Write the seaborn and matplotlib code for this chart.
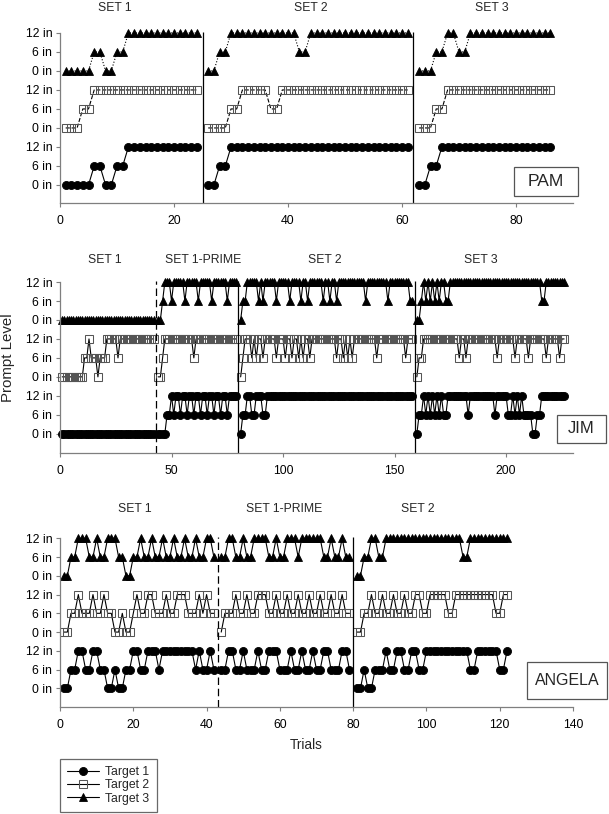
import numpy as np
import pandas as pd
import matplotlib
matplotlib.use("Agg")
import matplotlib.pyplot as plt
import seaborn as sns
from matplotlib.lines import Line2D
from matplotlib.patches import Rectangle

# ---------------- DATA (prompt level in inches, as runs of (value, count)) ----------------
LEVEL_LABELS = ["0 in", "6 in", "12 in"]
TARGETS = ["Target 1", "Target 2", "Target 3"]

# PAM
PAM_PHASE_STARTS = [1, 26, 63]
PAM_PHASE_NAMES = ["SET 1", "SET 2", "SET 3"]
PAM_T1 = [[(0, 5), (6, 2), (0, 2), (6, 2), (12, 13)],
          [(0, 2), (6, 2), (12, 32)],
          [(0, 2), (6, 2), (12, 20)]]
PAM_T2 = [[(0, 3), (6, 2), (12, 19)],
          [(0, 4), (6, 2), (12, 5), (6, 2), (12, 23)],
          [(0, 3), (6, 2), (12, 19)]]
PAM_T3 = [[(0, 5), (6, 2), (0, 2), (6, 2), (12, 13)],
          [(0, 2), (6, 2), (12, 12), (6, 2), (12, 18)],
          [(0, 3), (6, 2), (12, 2), (6, 2), (12, 15)]]
PAM_LINES = [25, 62]
PAM_LINE_STYLES = ["-", "-"]

# JIM
JIM_PHASE_STARTS = [1, 44, 81, 160]
JIM_PHASE_NAMES = ["SET 1", "SET 1-PRIME", "SET 2", "SET 3"]
JIM_T1 = [[(0, 42)],
          [(0, 4), (6, 2), (12, 1), (6, 1), (12, 2), (6, 1), (12, 2), (6, 1), (12, 2), (6, 1),
           (12, 2), (6, 1), (12, 2), (6, 1), (12, 2), (6, 1), (12, 2), (6, 1), (12, 2), (6, 1),
           (12, 4)],
          [(0, 1), (6, 2), (12, 2), (6, 2), (12, 3), (6, 2), (12, 66)],
          [(0, 1), (6, 2), (12, 1), (6, 1), (12, 1), (6, 1), (12, 1), (6, 1), (12, 1), (6, 1),
           (12, 1), (6, 2), (12, 9), (6, 1), (12, 11), (6, 1), (12, 5), (6, 2), (12, 1), (6, 1),
           (12, 1), (6, 1), (12, 1), (6, 4), (0, 2), (6, 2), (12, 11)]]
JIM_T2 = [[(0, 10), (6, 2), (12, 1), (6, 3), (0, 1), (6, 3), (12, 5), (6, 1), (12, 16)],
          [(0, 2), (6, 1), (12, 13), (6, 1), (12, 19)],
          [(0, 1), (6, 1), (12, 3), (6, 1), (12, 1), (6, 1), (12, 2), (6, 1), (12, 5), (6, 1),
           (12, 3), (6, 1), (12, 2), (6, 1), (12, 2), (6, 1), (12, 1), (6, 1), (12, 2), (6, 1),
           (12, 11), (6, 1), (12, 2), (6, 1), (12, 1), (6, 1), (12, 1), (6, 1), (12, 10), (6, 1),
           (12, 12), (6, 1), (12, 3)],
          [(0, 1), (6, 2), (12, 16), (6, 1), (12, 2), (6, 1), (12, 13), (6, 1), (12, 7), (6, 1),
           (12, 5), (6, 1), (12, 7), (6, 1), (12, 5), (6, 1), (12, 2)]]
JIM_T3 = [[(0, 42)],
          [(0, 2), (6, 1), (12, 3), (6, 1), (12, 5), (6, 1), (12, 5), (6, 1), (12, 5), (6, 1),
           (12, 6), (6, 1), (12, 4)],
          [(0, 1), (6, 2), (12, 5), (6, 1), (12, 1), (6, 1), (12, 5), (6, 1), (12, 5), (6, 1),
           (12, 4), (6, 1), (12, 2), (6, 1), (12, 6), (6, 1), (12, 2), (6, 1), (12, 2), (6, 1),
           (12, 12), (6, 1), (12, 9), (6, 1), (12, 9), (6, 2)],
          [(0, 2), (6, 1), (12, 1), (6, 1), (12, 1), (6, 1), (12, 1), (6, 1), (12, 1), (6, 1),
           (12, 2), (6, 2), (12, 41), (6, 2), (12, 9)]]
JIM_LINES = [43, 80, 159]
JIM_LINE_STYLES = ["--", "-", "-"]

# ANGELA
ANG_PHASE_STARTS = [1, 44, 81]
ANG_PHASE_NAMES = ["SET 1", "SET 1-PRIME", "SET 2"]
ANG_T1 = [[(0, 2), (6, 2), (12, 2), (6, 2), (12, 2), (6, 2), (0, 2), (6, 1), (0, 2), (6, 2),
           (12, 2), (6, 2), (12, 3), (6, 1), (12, 9), (6, 1), (12, 1), (6, 2), (12, 1), (6, 1)],
          [(6, 2), (12, 2), (6, 2), (12, 1), (6, 3), (12, 1), (6, 2), (12, 3), (6, 3), (12, 1),
           (6, 2), (12, 1), (6, 2), (12, 1), (6, 2), (12, 2), (6, 3), (12, 2), (6, 1)],
          [(0, 2), (6, 1), (0, 2), (6, 3), (12, 1), (6, 2), (12, 2), (6, 2), (12, 2), (6, 2),
           (12, 12), (6, 2), (12, 6), (6, 2), (12, 1)]]
ANG_T2 = [[(0, 2), (6, 2), (12, 1), (6, 3), (12, 1), (6, 2), (12, 1), (6, 2), (0, 2), (6, 1),
           (0, 2), (6, 1), (12, 1), (6, 2), (12, 2), (6, 3), (12, 1), (6, 2), (12, 3), (6, 3),
           (12, 1), (6, 1), (12, 1), (6, 2)],
          [(0, 1), (6, 3), (12, 1), (6, 2), (12, 1), (6, 2), (12, 3), (6, 2), (12, 1), (6, 2),
           (12, 1), (6, 2), (12, 1), (6, 2), (12, 1), (6, 2), (12, 1), (6, 2), (12, 1), (6, 2),
           (12, 1), (6, 2)],
          [(0, 2), (6, 2), (12, 1), (6, 2), (12, 1), (6, 2), (12, 1), (6, 2), (12, 1), (6, 2),
           (12, 2), (6, 2), (12, 5), (6, 2), (12, 11), (6, 2), (12, 2)]]
ANG_T3 = [[(0, 2), (6, 2), (12, 3), (6, 2), (12, 1), (6, 2), (12, 3), (6, 2), (0, 2), (6, 2),
           (12, 1), (6, 2), (12, 1), (6, 2), (12, 1), (6, 2), (12, 1), (6, 2), (12, 1), (6, 2),
           (12, 1), (6, 2), (12, 2), (6, 1)],
          [(6, 2), (12, 2), (6, 2), (12, 1), (6, 2), (12, 4), (6, 2), (12, 1), (6, 2), (12, 3),
           (6, 1), (12, 6), (6, 2), (12, 1), (6, 2), (12, 1), (6, 2)],
          [(0, 2), (6, 2), (12, 2), (6, 2), (12, 21), (6, 2), (12, 11)]]
ANG_LINES = [43, 80]
ANG_LINE_STYLES = ["--", "-"]

# ---------------- STYLE ----------------
sns.set_theme(style="ticks")
plt.rcParams["font.family"] = ["Liberation Sans", "DejaVu Sans"]

W, H = 609, 814
fig = plt.figure(figsize=(W / 100, H / 100), dpi=100)
GRAY = "#7f7f7f"


def build_df(starts, series):
    rows = []
    for t_idx, phases in enumerate(series):
        for p_idx, runs in enumerate(phases):
            vals = [v for v, n in runs for _ in range(n)]
            for k, v in enumerate(vals):
                rows.append({"trial": starts[p_idx] + k, "inches": v,
                             "target": TARGETS[t_idx], "phase": p_idx,
                             "y": t_idx * 3 + v / 6})
    return pd.DataFrame(rows)


STYLES = {
    "Target 1": dict(marker="o", markersize=5.8, mfc="black", mec="black", mew=0.6),
    "Target 2": dict(marker="s", markersize=5.6, mfc="none", mec="#555555", mew=0.75),
    "Target 3": dict(marker="^", markersize=6.0, mfc="black", mec="black", mew=0.6),
}


def px2fig(x, y):
    return x / W, 1 - y / H


def make_panel(left_px, right_px, bottom_px, px_per_unit, ymin, xmax, xticks,
               starts, names, series, lines, line_styles, title_pos, name, name_box,
               name_fs, lstyles):
    ymax = 8.4
    height_px = (ymax - ymin) * px_per_unit
    ax = fig.add_axes([left_px / W, (H - bottom_px) / H, (right_px - left_px) / W, height_px / H])
    df = build_df(starts, series)
    for tgt in TARGETS:
        sub = df[df["target"] == tgt]
        sns.lineplot(data=sub, x="trial", y="y", units="phase", estimator=None, sort=False,
                     ax=ax, color="black", lw=0.8, linestyle=lstyles[tgt], legend=False,
                     clip_on=False, **STYLES[tgt])
    for xv, ls in zip(lines, line_styles):
        style = (0, (6, 3)) if ls == "--" else "solid"
        ax.vlines(xv, ymin, 8.05, colors="black", linestyles=[style], lw=0.9)
    ax.set_xlim(0, xmax)
    ax.set_ylim(ymin, ymax)
    ax.set_xticks(xticks)
    ax.set_xticklabels([str(t) for t in xticks])
    ax.set_yticks(range(9))
    ax.set_yticklabels(LEVEL_LABELS * 3)
    ax.set_xlabel("")
    ax.set_ylabel("")
    for s in ["top", "right"]:
        ax.spines[s].set_visible(False)
    for s in ["left", "bottom"]:
        ax.spines[s].set_color(GRAY)
        ax.spines[s].set_linewidth(0.9)
    ax.spines["left"].set_bounds(ymin, 8)
    ax.tick_params(axis="y", direction="out", length=3, width=0.8, color=GRAY,
                   labelsize=8.8, pad=2.5, labelcolor="black")
    ax.tick_params(axis="x", direction="out", length=3, width=0.8, color=GRAY,
                   labelsize=8.8, pad=5.5, labelcolor="black")
    for (tx, ty), nm in zip(title_pos, names):
        fx, fy = px2fig(tx, ty)
        fig.text(fx, fy, nm, ha="center", va="center", fontsize=8.8)
    x0, y0, x1, y1 = name_box
    fx0, fy1 = px2fig(x0, y1)
    fig.patches.append(Rectangle((fx0, fy1), (x1 - x0) / W, (y1 - y0) / H,
                                 transform=fig.transFigure, fill=False,
                                 edgecolor="#555555", lw=0.9))
    cx, cy = px2fig((x0 + x1) / 2, (y0 + y1) / 2)
    fig.text(cx, cy, name, ha="center", va="center", fontsize=name_fs)
    return ax


make_panel(60, 573, 203, 19.0, -0.95, 90, [0, 20, 40, 60, 80],
           PAM_PHASE_STARTS, PAM_PHASE_NAMES, [PAM_T1, PAM_T2, PAM_T3],
           PAM_LINES, PAM_LINE_STYLES, [(115, 8), (311, 8), (492, 8)],
           "PAM", (514, 167, 578, 196), 12.5,
           {"Target 1": "-", "Target 2": "--", "Target 3": ":"})

make_panel(60, 573, 452.7, 18.96, -1.0, 230, [0, 50, 100, 150, 200],
           JIM_PHASE_STARTS, JIM_PHASE_NAMES, [JIM_T1, JIM_T2, JIM_T3],
           JIM_LINES, JIM_LINE_STYLES, [(105, 260), (203, 260), (325, 260), (481, 260)],
           "JIM", (557, 415, 606, 443), 12,
           {"Target 1": "-", "Target 2": "-", "Target 3": "-"})

make_panel(60, 573, 706.7, 18.75, -0.98, 140, [0, 20, 40, 60, 80, 100, 120, 140],
           ANG_PHASE_STARTS, ANG_PHASE_NAMES, [ANG_T1, ANG_T2, ANG_T3],
           ANG_LINES, ANG_LINE_STYLES, [(135, 509), (284, 509), (418, 509)],
           "ANGELA", (527, 662, 607, 699), 11.5,
           {"Target 1": "-", "Target 2": "-", "Target 3": "-"})

fx, fy = px2fig(8, 358)
fig.text(fx, fy, "Prompt Level", rotation=90, ha="center", va="center", fontsize=10.8)
fx, fy = px2fig(306, 745)
fig.text(fx, fy, "Trials", ha="center", va="center", fontsize=9.8)

handles = [Line2D([0], [0], color="black", lw=0.8, **STYLES[t]) for t in TARGETS]
leg = fig.legend(handles, TARGETS, loc="lower left",
                 bbox_to_anchor=(60 / W, 2 / H), frameon=True, fancybox=False,
                 fontsize=8.8, handlelength=2.6, handletextpad=0.5, labelspacing=0.1,
                 borderpad=0.6, borderaxespad=0)
leg.get_frame().set_edgecolor("#444444")
leg.get_frame().set_linewidth(0.9)

fig.savefig("out.png", dpi=100)
